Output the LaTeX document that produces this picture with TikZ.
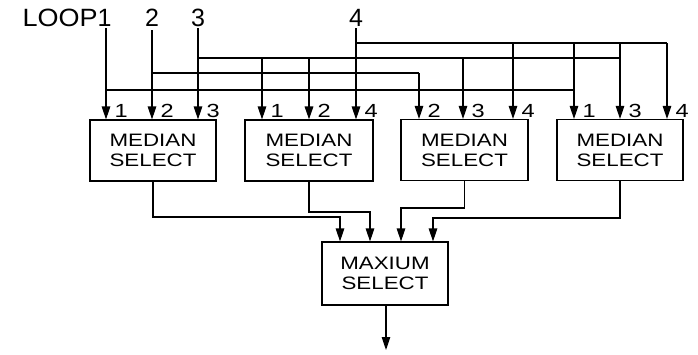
\documentclass[tikz,border=0pt]{standalone}
\usepackage{graphicx}
\usepackage{fontspec}
\setmainfont{Liberation Sans}
\usetikzlibrary{arrows.meta}
\newcommand{\wide}[1]{\scalebox{1.24}[1]{#1}}
\begin{document}
\begin{tikzpicture}[x=1pt,y=-1pt,
  line width=1.1pt,
  arr/.style={-{Triangle[length=13pt,width=8.5pt]}},
  blk/.style={draw,line width=1.1pt,minimum height=61pt,inner sep=0pt,align=center,font=\fontsize{18}{20}\selectfont},
  toplab/.style={inner sep=0pt,font=\fontsize{25}{25}\selectfont},
  inlab/.style={inner sep=0pt,anchor=base west,font=\fontsize{19}{19}\selectfont}]
\useasboundingbox (0,0) rectangle (698,354);
% blocks
\node[blk,minimum width=126pt] (m1) at (153,150.5) {\wide{MEDIAN}\\\wide{SELECT}};
\node[blk,minimum width=128pt] (m2) at (309,150.5) {\wide{MEDIAN}\\\wide{SELECT}};
\node[blk,minimum width=127pt] (m3) at (464.5,150) {\wide{MEDIAN}\\\wide{SELECT}};
\node[blk,minimum width=126pt] (m4) at (620,150) {\wide{MEDIAN}\\\wide{SELECT}};
\node[blk,minimum width=126pt,minimum height=63pt] (mx) at (385,273.5) {\wide{MAXIUM}\\\wide{SELECT}};
% loop labels
\node[toplab,anchor=east] (lp1) at (112,18) {\scalebox{1.08}[1]{LOOP}1};
\node[toplab] (lp2) at (152,18) {2};
\node[toplab] (lp3) at (198,18) {3};
\node[toplab] (lp4) at (356,18) {4};
% source coordinates
\coordinate (s1) at (106,28);
\coordinate (s2) at (152,30);
\coordinate (s3) at (198,28);
\coordinate (s4) at (356,28);
% buses
\draw (s1 |- 0,90) -- (574,90);
\draw[line width=2.4pt] (s1 |- 0,90) -- (245,90);
\draw (s2 |- 0,73) -- (419,73);
\draw (s3 |- 0,58) -- (620,58);
\draw (s4 |- 0,43) -- (667,43);
% box 1 inputs
\draw[arr] (s1) -- (106,0 |- m1.north);
\draw[arr] (s2) -- (152,0 |- m1.north);
\draw[arr] (s3) -- (198,0 |- m1.north);
% box 2 inputs
\draw[arr] (262,58) -- (262,0 |- m2.north);
\draw[arr,line width=1.6pt] (309,58) -- (309,0 |- m2.north);
\draw[arr] (s4) -- (356,0 |- m2.north);
% box 3 inputs
\draw[arr] (419,73) -- (419,0 |- m3.north);
\draw[arr] (463,58) -- (463,0 |- m3.north);
\draw[arr] (513,43) -- (513,0 |- m3.north);
% box 4 inputs
\draw[arr] (574,43) -- (574,0 |- m4.north);
\draw[arr] (620,43) -- (620,0 |- m4.north);
\draw[arr] (667,43) -- (667,0 |- m4.north);
% input labels
\node[inlab] (a11) at (114,117) {\wide{1}};
\node[inlab] (a12) at (160,117) {\wide{2}};
\node[inlab] (a13) at (206,117) {\wide{3}};
\node[inlab] (a21) at (270,117) {\wide{1}};
\node[inlab] (a22) at (317,117) {\wide{2}};
\node[inlab] (a24) at (364,117) {\wide{4}};
\node[inlab] (a32) at (427,117) {\wide{2}};
\node[inlab] (a33) at (471,117) {\wide{3}};
\node[inlab] (a34) at (521,117) {\wide{4}};
\node[inlab] (a41) at (582,117) {\wide{1}};
\node[inlab] (a43) at (628,117) {\wide{3}};
\node[inlab] (a44) at (675,117) {\wide{4}};
% outputs to maximum select
\draw[arr] (m1.south) |- (340,217) -- (340,0 |- mx.north);
\draw[arr] (m2.south) |- (370,212) -- (370,0 |- mx.north);
\draw[arr] (m3.south) |- (401,208) -- (401,0 |- mx.north);
\draw[arr] (m4.south) |- (433,218) -- (433,0 |- mx.north);
\coordinate (out) at (386,350);
\draw[arr] (mx.south -| out) -- (out);
\end{tikzpicture}
\end{document}
